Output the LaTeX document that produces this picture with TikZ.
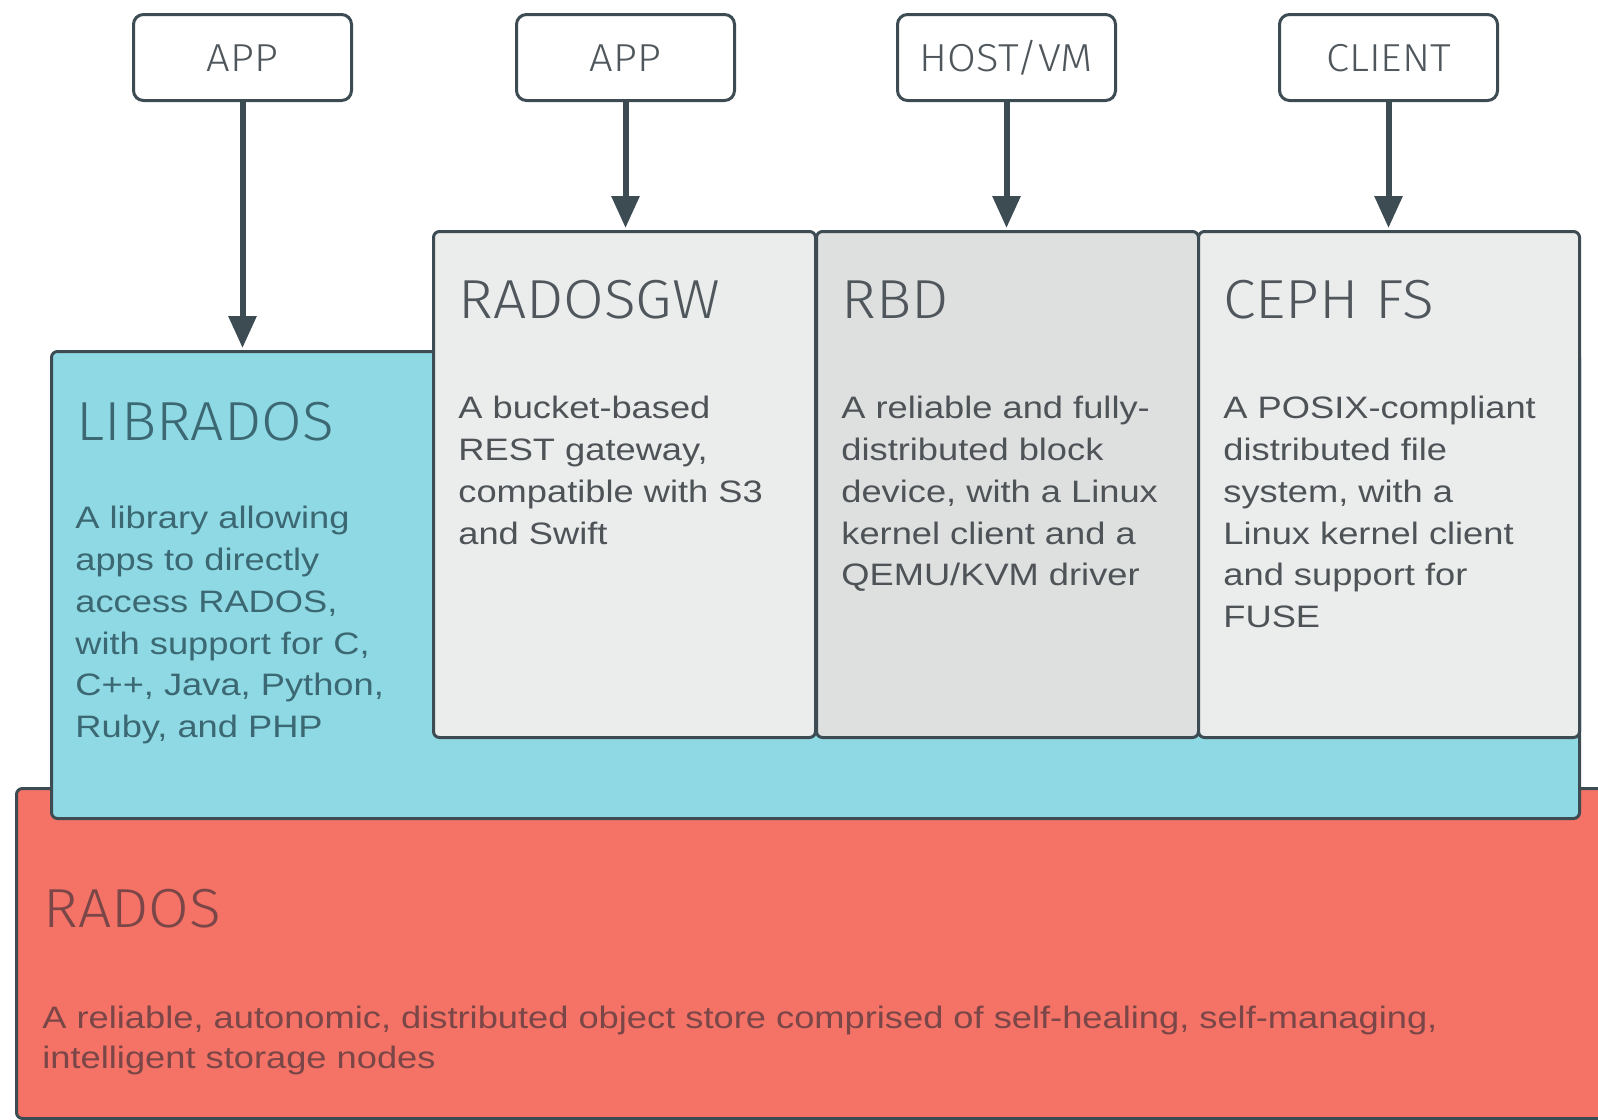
\documentclass[tikz,border=0pt]{standalone}
\usepackage{fontspec}
\setmainfont{Liberation Sans}
\newfontfamily\bodyfont[FakeStretch=1.17]{Liberation Sans}
\newfontfamily\titlefont[FakeStretch=1.07]{Fira Sans Light}
\usetikzlibrary{arrows.meta}

\definecolor{edgec}{HTML}{3D4B53}
\definecolor{cyanfill}{HTML}{8ED9E3}
\definecolor{redfill}{HTML}{F47266}
\definecolor{greyfill}{HTML}{EBECEC}
\definecolor{rbdfill}{HTML}{DEDFDF}
\definecolor{greytext}{HTML}{4E5357}
\definecolor{greytitle}{HTML}{4F575C}
\definecolor{cyantext}{HTML}{3B6872}
\definecolor{redtext}{HTML}{7A4647}

\tikzset{
  boxbase/.style={draw=edgec, line width=1.5pt, rounded corners=3pt, anchor=north west, inner sep=0pt},
  topbox/.style={draw=edgec, line width=1.5pt, rounded corners=5pt, fill=white,
    minimum width=109pt, minimum height=43pt, inner sep=0pt, anchor=north west,
    text=greytitle, font=\titlefont\fontsize{19.5}{22}\selectfont, text height=13.5pt, text depth=0pt},
  grey/.style={boxbase, fill=greyfill, minimum width=191pt, minimum height=253pt},
  titletext/.style={anchor=base west, inner sep=0pt, font=\titlefont\fontsize{27.5}{33}\selectfont},
  bodytext/.style={anchor=north west, inner sep=0pt, align=left, font=\bodyfont\fontsize{15.5}{20.9}\selectfont},
  arr/.style={draw=edgec, line width=3pt, -{Triangle[width=13.5pt,length=16pt]}, shorten >=1pt},
}

\begin{document}
\begin{tikzpicture}[x=0.5pt,y=-0.5pt]
\useasboundingbox (0,0) rectangle (1598,1119);
\clip (0,0) rectangle (1598,1119);
\fill[white] (0,0) rectangle (1598,1119);

% layers
\node[boxbase, fill=redfill, minimum width=820pt, minimum height=165pt] (rados) at (15,787) {};
\node[boxbase, fill=cyanfill, minimum width=764pt, minimum height=233.5pt] (librados) at (50,350) {};
\node[grey] (rgw) at (432,230) {};
\node[grey, fill=rbdfill] (rbd) at (815,230) {};
\node[grey, minimum width=190.5pt] (cephfs) at (1197,230) {};

% top boxes
\node[topbox] (app1) at (132,13) {APP};
\node[topbox] (app2) at (515,13) {APP};
\node[topbox] (host) at (896,13) {HOST/VM};
\node[topbox] (client) at (1278,13) {CLIENT};

% arrows
\draw[arr] (app1.south) -- (app1.south |- librados.north);
\draw[arr] (app2.south) -- (app2.south |- rgw.north);
\draw[arr] (host.south) -- (host.south |- rbd.north);
\draw[arr] (client.south) -- (client.south |- cephfs.north);

% titles
\node[titletext, text=greytitle] (trgw) at (458,318) {RADOSGW};
\node[titletext, text=greytitle] (trbd) at (841,318) {RBD};
\node[titletext, text=greytitle] (tceph) at (1223,318) {CEPH FS};
\node[titletext, text=cyantext] (tlib) at (76,440) {LIBRADOS};
\node[titletext, text=redtext] (trados) at (43,927) {RADOS};

% descriptions (first baseline = y + 29.3)
\node[bodytext, text=greytext] (drgw) at (458,389) {\strut A bucket-based\\REST gateway,\\compatible with S3\\and Swift};
\node[bodytext, text=greytext] (drbd) at (841,389) {\strut A reliable and fully-\\distributed block\\device, with a Linux\\kernel client and a\\QEMU/KVM driver};
\node[bodytext, text=greytext] (dceph) at (1223,389) {\strut A POSIX-compliant\\distributed file\\system, with a\\Linux kernel client\\and support for\\FUSE};
\node[bodytext, text=cyantext] (dlib) at (75,499) {\strut A library allowing\\apps to directly\\access RADOS,\\with support for C,\\C++, Java, Python,\\Ruby, and PHP};
\node[bodytext, text=redtext, font=\bodyfont\fontsize{15.5}{20}\selectfont] (drados) at (42,1000) {\strut A reliable, autonomic, distributed object store comprised of self-healing, self-managing,\\intelligent storage nodes};
\end{tikzpicture}
\end{document}
